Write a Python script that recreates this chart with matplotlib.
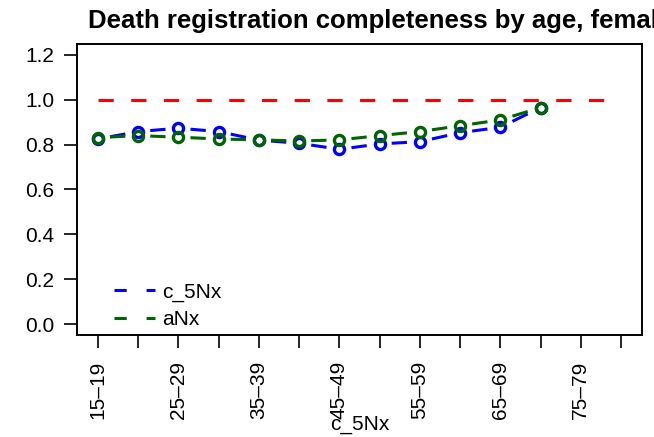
import numpy as np
import matplotlib
matplotlib.use('Agg')
import matplotlib.pyplot as plt
from matplotlib.lines import Line2D

plt.rcParams['font.family'] = ['Liberation Sans', 'DejaVu Sans']

age_groups = ['15–19', '20–24', '25–29', '30–34', '35–39', '40–44', '45–49',
              '50–54', '55–59', '60–64', '65–69', '70–74', '75–79', '80–84']
c_5Nx = [0.825, 0.858, 0.873, 0.858, 0.820, 0.806, 0.779, 0.803, 0.813,
         0.853, 0.877, 0.965]
aNx = [0.831, 0.840, 0.833, 0.825, 0.821, 0.816, 0.821, 0.840, 0.858,
       0.884, 0.910, 0.965]
ref_level = 1.0

W, H = 654, 437
fig = plt.figure(figsize=(W / 100, H / 100), dpi=100)
ax = fig.add_axes([77 / W, (H - 335) / H, (642 - 77) / W, (335 - 44) / H])

x_all = np.arange(1, len(age_groups) + 1)
lw = 2.2

# reference line at 1
ax.plot(x_all, [ref_level] * len(x_all), color='red', lw=lw,
        dashes=(5, 5.7), dash_capstyle='butt', zorder=2)


def draw_b(vals, col):
    # R type="b": points joined by short segments with gaps around points
    x = np.arange(1, len(vals) + 1)
    y = np.array(vals)
    for i in range(len(x) - 1):
        t0, t1 = 0.30, 0.68
        xs = [x[i] + t0 * (x[i + 1] - x[i]), x[i] + t1 * (x[i + 1] - x[i])]
        ys = [y[i] + t0 * (y[i + 1] - y[i]), y[i] + t1 * (y[i + 1] - y[i])]
        ax.plot(xs, ys, color=col, lw=lw, solid_capstyle='butt', zorder=3)
    ax.plot(x, y, ls='none', marker='o', ms=7.3, mfc='none', mec=col,
            mew=2.4, zorder=4)


draw_b(c_5Nx, 'blue')
draw_b(aNx, '#006400')

ax.set_xlim(0.48, 14.52)
ax.set_ylim(-0.048, 1.248)
ax.set_xticks(x_all)
ax.set_xticklabels([lab if i % 2 == 0 else '' for i, lab in enumerate(age_groups)],
                   rotation=90, fontsize=15)
ax.set_yticks(np.arange(0, 1.21, 0.2))
ax.set_yticklabels(['%.1f' % v for v in np.arange(0, 1.21, 0.2)], fontsize=15)
ax.tick_params(direction='out', length=9.5, width=1.2, colors='black')
ax.tick_params(axis='y', pad=7)
ax.tick_params(axis='x', pad=9)
for s in ax.spines.values():
    s.set_linewidth(1.4)

ax.set_xlabel('c_5Nx', fontsize=15)
ax.xaxis.set_label_coords(0.5, -0.275)

handles = [Line2D([], [], color='blue', lw=lw, dashes=(4, 6.5), dash_capstyle='butt'),
           Line2D([], [], color='#006400', lw=lw, dashes=(4, 6.5), dash_capstyle='butt')]
ax.legend(handles, ['c_5Nx', 'aNx'], loc='lower left', frameon=False, fontsize=15,
          handlelength=1.95, handletextpad=0.35, labelspacing=0.42,
          bbox_to_anchor=(0.033, -0.045))

fig.text(88 / W, 1 - 28 / H, 'Death registration completeness by age, females',
         fontsize=18.5, fontweight='bold', ha='left', va='baseline')

fig.savefig('out.png', dpi=100)
